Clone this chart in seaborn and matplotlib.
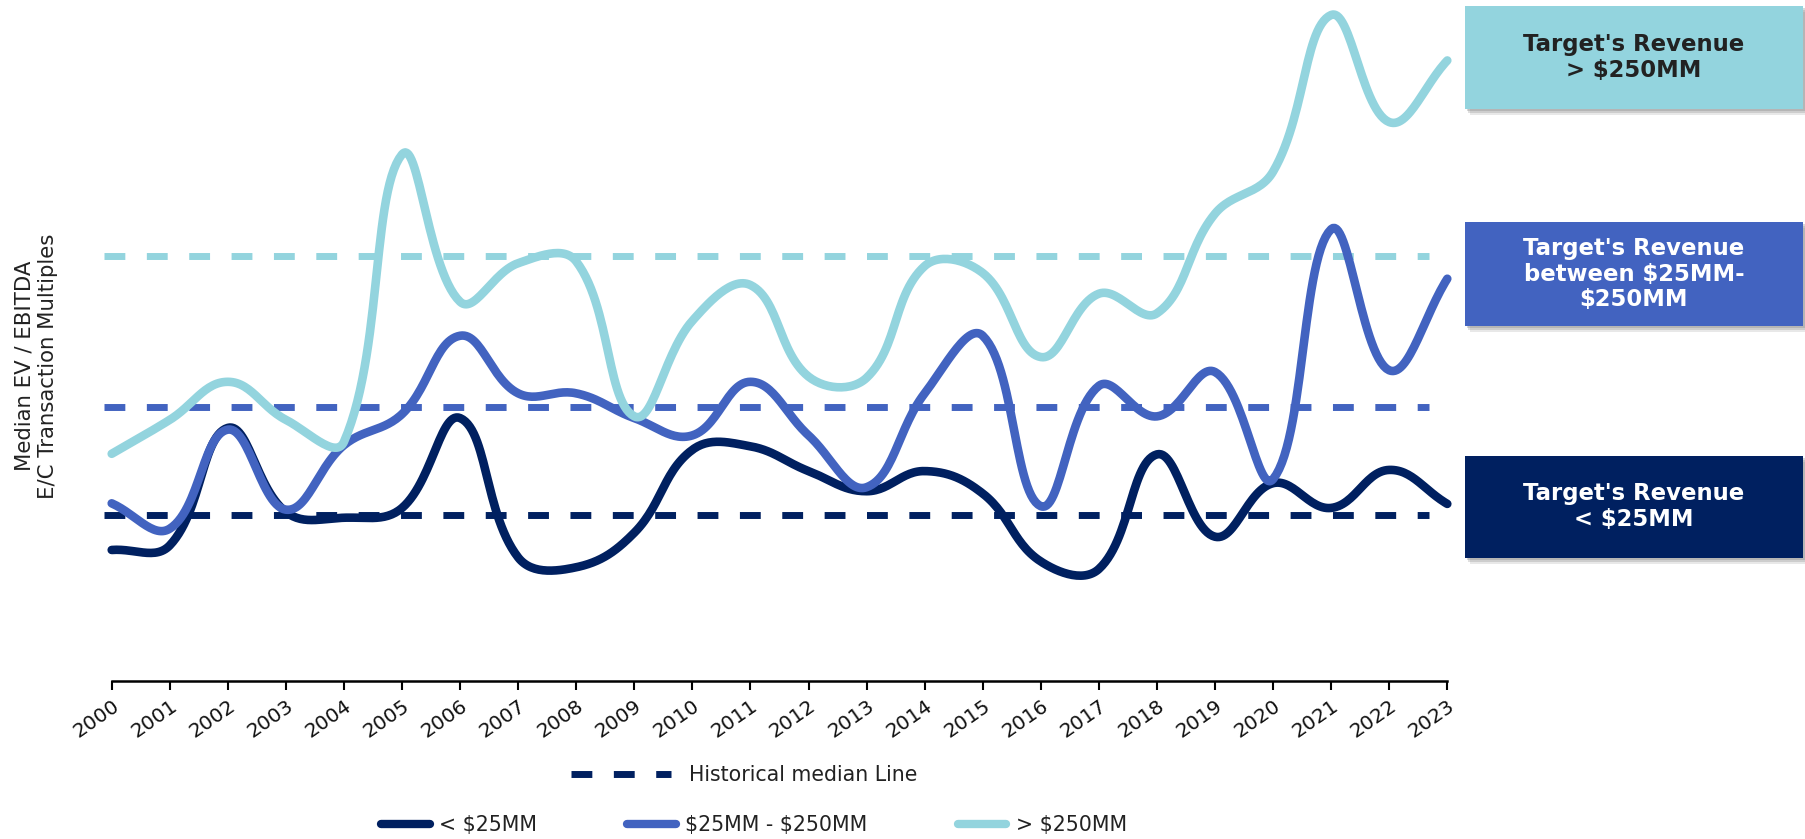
import numpy as np
import pandas as pd
import matplotlib
matplotlib.use("Agg")
import matplotlib.pyplot as plt
import seaborn as sns
from matplotlib.lines import Line2D
from matplotlib.patches import Rectangle

# ---------------- data ----------------
years = list(range(2000, 2024))
series_names = ["< $25MM", "$25MM - $250MM", "> $250MM"]
small = [2.27, 2.35, 4.39, 2.93, 2.83, 3.00, 4.56, 2.14, 1.97, 2.57, 4.01, 4.07,
         3.64, 3.29, 3.64, 3.25, 2.07, 1.94, 3.93, 2.50, 3.43, 3.00, 3.66, 3.07]
mid = [3.08, 2.64, 4.36, 2.97, 4.09, 4.63, 5.99, 4.99, 4.99, 4.56, 4.26, 5.19,
       4.26, 3.36, 4.99, 5.99, 3.03, 5.12, 4.59, 5.36, 3.50, 7.84, 5.39, 6.98]
large = [3.94, 4.53, 5.19, 4.53, 4.15, 9.14, 6.58, 7.25, 7.28, 4.59, 6.25, 6.87,
         5.28, 5.26, 7.20, 7.08, 5.62, 6.72, 6.38, 8.11, 8.84, 11.56, 9.70, 10.77]
medians = [2.88, 4.76, 7.38]
colors = ["#002060", "#4263C0", "#93D4DE"]
box_texts = ["Target's Revenue\n< $25MM",
             "Target's Revenue\nbetween $25MM-\n$250MM",
             "Target's Revenue\n> $250MM"]
ylabel = "Median EV / EBITDA\nE/C Transaction Multiples"
legend_median = "Historical median Line"

# ---------------- figure ----------------
W, H = 1806, 839
sns.set_theme(style="white")
plt.rcParams["font.family"] = ["DejaVu Sans"]
plt.rcParams["text.parse_math"] = False
fig = plt.figure(figsize=(W / 100, H / 100), dpi=100)

x0, x1 = 1999.8, 2023.1
ytop = 11.82
ax_left = (111.7 - 0.2 * 58.04) / W
ax_right = (1447.3 + 0.1 * 58.04) / W
ax_bottom = 1 - 680.7 / H
ax = fig.add_axes([ax_left, ax_bottom, ax_right - ax_left, 1 - ax_bottom])

PX = 58.04   # px per year
PY = 57.6    # px per unit


def chartjs_smooth(xs, ys, t=0.4, n=30):
    px = np.array(xs, float) * PX
    py = np.array(ys, float) * PY
    m = len(px)
    cp_prev = np.zeros((m, 2))
    cp_next = np.zeros((m, 2))
    for i in range(m):
        pv = (px[i - 1], py[i - 1]) if i > 0 else (px[i], py[i])
        nx = (px[i + 1], py[i + 1]) if i < m - 1 else (px[i], py[i])
        d01 = np.hypot(px[i] - pv[0], py[i] - pv[1])
        d12 = np.hypot(nx[0] - px[i], nx[1] - py[i])
        s = d01 + d12
        s01 = d01 / s if s else 0
        s12 = d12 / s if s else 0
        fa, fb = t * s01, t * s12
        cp_prev[i] = (px[i] - fa * (nx[0] - pv[0]), py[i] - fa * (nx[1] - pv[1]))
        cp_next[i] = (px[i] + fb * (nx[0] - pv[0]), py[i] + fb * (nx[1] - pv[1]))
    outx, outy = [], []
    tt = np.linspace(0, 1, n)
    for i in range(m - 1):
        p0 = np.array([px[i], py[i]])
        p1 = cp_next[i]
        p2 = cp_prev[i + 1]
        p3 = np.array([px[i + 1], py[i + 1]])
        b = ((1 - tt) ** 3)[:, None] * p0 + (3 * (1 - tt) ** 2 * tt)[:, None] * p1 \
            + (3 * (1 - tt) * tt ** 2)[:, None] * p2 + (tt ** 3)[:, None] * p3
        if i > 0:
            b = b[1:]
        outx.extend(b[:, 0] / PX)
        outy.extend(b[:, 1] / PY)
    return outx, outy


frames = []
for name, vals in zip(series_names, [small, mid, large]):
    sx, sy = chartjs_smooth(years, vals)
    frames.append(pd.DataFrame({"x": sx, "y": sy, "series": name}))
df = pd.concat(frames, ignore_index=True)

# median dashed lines
for val, c in zip(medians, colors):
    ax.hlines(val, 2000 - 8 / PX, 2023 - 18 / PX, colors=c, linewidth=5,
              linestyles=(0, (3, 3.1)), zorder=1)

for name, c in zip(series_names, colors):
    sub = df[df["series"] == name]
    sns.lineplot(data=sub, x="x", y="y", sort=False, estimator=None, color=c,
                 linewidth=6.2, ax=ax, legend=False, zorder=3,
                 solid_capstyle="round", solid_joinstyle="round")

ax.set_xlim(x0, x1)
ax.set_ylim(0, ytop)
ax.set_xlabel("")
ax.set_ylabel("")
for s in ["top", "right", "left"]:
    ax.spines[s].set_visible(False)
ax.spines["bottom"].set_bounds(2000, 2023)
ax.spines["bottom"].set_color("black")
ax.spines["bottom"].set_linewidth(1.8)
ax.set_yticks([])
ax.set_xticks(years)
ax.set_xticklabels([str(y) for y in years], rotation=35, ha="right",
                   rotation_mode="anchor", fontsize=14.5, color="#111111")
ax.tick_params(axis="x", direction="out", length=6.5, width=1.5, color="black",
               pad=5, bottom=True)
ax.patch.set_alpha(0)

# y label
fig.text(36 / W, 1 - 366 / H, ylabel, rotation=90, ha="center", va="center",
         fontsize=15.3, color="#222222", multialignment="center", linespacing=1.2)

# boxes on the right
boxes = [(456, 557.5), (222, 326), (6, 109)]
text_colors = ["white", "white", "#222222"]
bx0, bx1 = 1465, 1803
for (yt, yb), c, txt, tc in zip(boxes, colors, box_texts, text_colors):
    for dx, dy, a in [(5, 6, 0.18), (3, 4, 0.25), (2, 2, 0.3)]:
        sh = Rectangle(((bx0 + dx) / W, 1 - (yb + dy) / H), (bx1 - bx0) / W,
                       (yb - yt) / H, transform=fig.transFigure,
                       facecolor="#808080", alpha=a, edgecolor="none", zorder=1)
        fig.patches.append(sh)
    rect = Rectangle((bx0 / W, 1 - yb / H), (bx1 - bx0) / W, (yb - yt) / H,
                     transform=fig.transFigure, facecolor=c, edgecolor="none", zorder=2)
    fig.patches.append(rect)
    fig.text((bx0 + bx1) / 2 / W, 1 - (yt + yb) / 2 / H, txt, ha="center", va="center",
             fontsize=16.4, fontweight="bold", color=tc, linespacing=1.15, zorder=3)

# legends
h_med = [Line2D([0], [0], color=colors[0], linewidth=5, linestyle=(0, (3, 3.1)))]
leg1 = fig.legend(h_med, [legend_median], loc="center",
                  bbox_to_anchor=(744 / W, 1 - 775 / H), frameon=False,
                  fontsize=14.8, handlelength=4.9, handletextpad=0.85)
for t in leg1.get_texts():
    t.set_color("#222222")
h_ser = [Line2D([0], [0], color=c, linewidth=6, solid_capstyle="round") for c in colors]
leg2 = fig.legend(h_ser, series_names, loc="center", ncol=3,
                  bbox_to_anchor=(754 / W, 1 - 825 / H), frameon=False,
                  fontsize=14.8, handlelength=2.36, handletextpad=0.45,
                  columnspacing=4.4)
for t in leg2.get_texts():
    t.set_color("#222222")

fig.savefig("out.png", dpi=100)
